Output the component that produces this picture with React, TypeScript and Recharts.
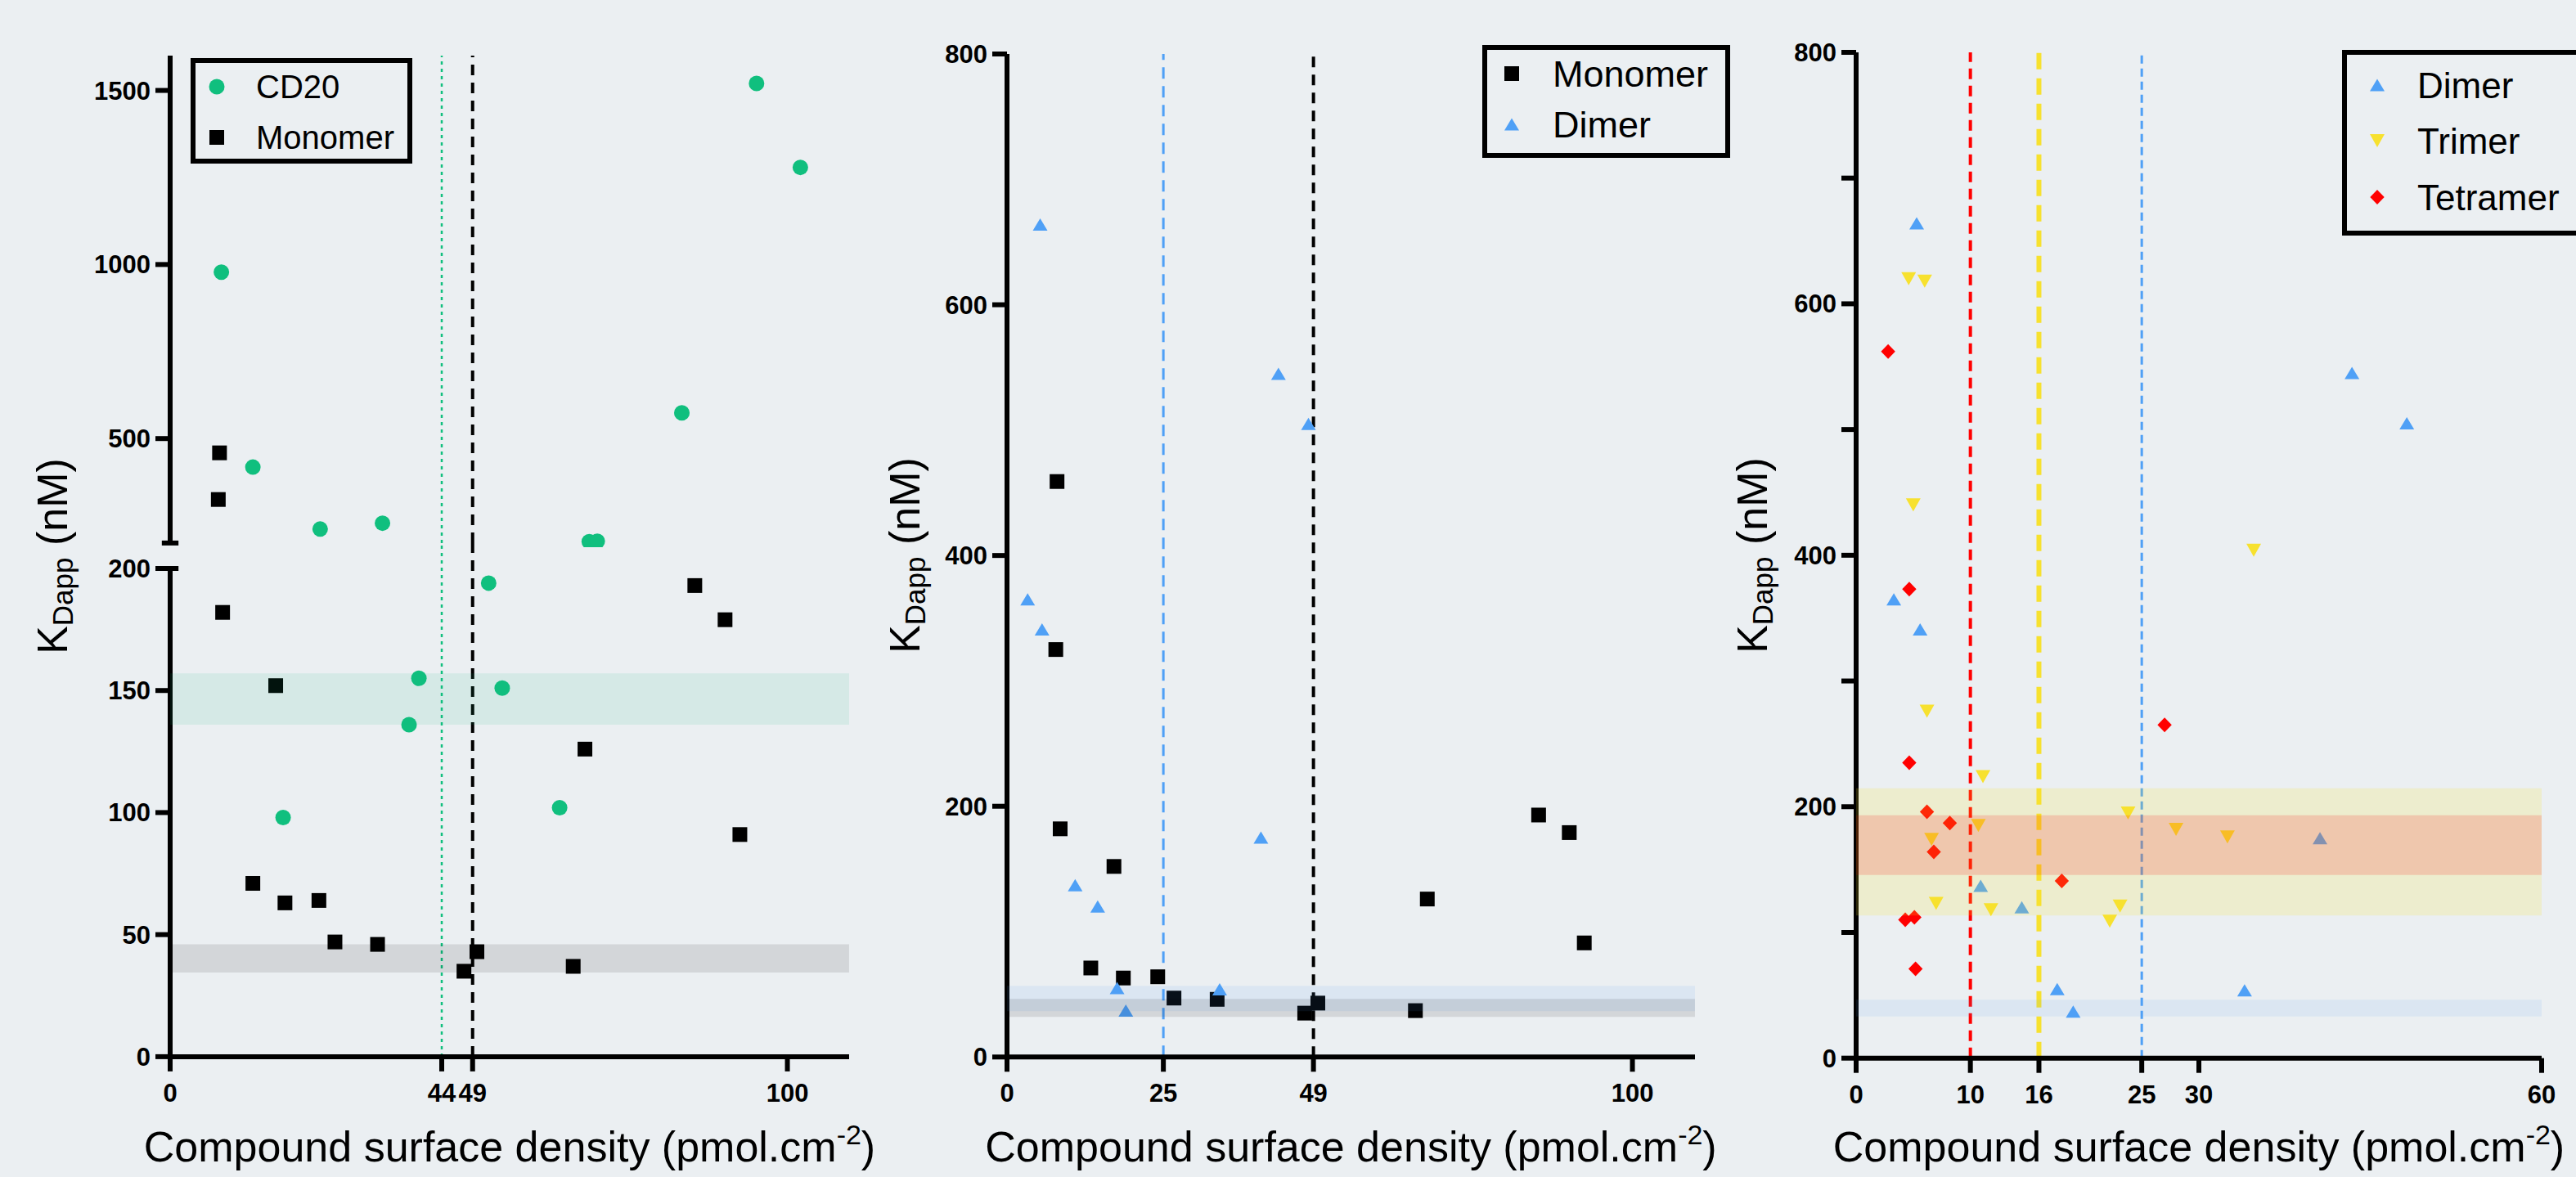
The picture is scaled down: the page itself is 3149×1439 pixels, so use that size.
import React from "react";
import { ReferenceArea, ReferenceLine, Scatter, ScatterChart, XAxis, YAxis } from "recharts";

type Pt = { x: number; y: number };
type Kind = "circle" | "square" | "up" | "down" | "diamond";

// x = compound surface density (pmol.cm-2), y = KDapp (nM)
const CD20: Pt[] = [
  { x: 8.3, y: 978 }, { x: 13.4, y: 418 }, { x: 24.3, y: 240 }, { x: 34.4, y: 257 },
  { x: 67.9, y: 204 }, { x: 69.2, y: 205 }, { x: 82.9, y: 574 }, { x: 95.0, y: 1520 },
  { x: 102.1, y: 1279 }, { x: 51.6, y: 194 }, { x: 40.3, y: 155 }, { x: 53.8, y: 151 },
  { x: 38.7, y: 136 }, { x: 18.3, y: 98 }, { x: 63.1, y: 102 },
];
const MONOMER: Pt[] = [
  { x: 8.0, y: 459 }, { x: 7.8, y: 325 }, { x: 8.5, y: 182 }, { x: 17.1, y: 152 },
  { x: 13.4, y: 71 }, { x: 18.6, y: 63 }, { x: 24.1, y: 64 }, { x: 26.7, y: 47 },
  { x: 33.6, y: 46 }, { x: 47.6, y: 35 }, { x: 49.7, y: 43 }, { x: 65.3, y: 37 },
  { x: 67.2, y: 126 }, { x: 85.0, y: 193 }, { x: 89.9, y: 179 }, { x: 92.3, y: 91 },
];
const DIMER: Pt[] = [
  { x: 5.3, y: 664 }, { x: 43.4, y: 545 }, { x: 48.2, y: 505 }, { x: 3.3, y: 365 },
  { x: 5.6, y: 341 }, { x: 40.6, y: 175 }, { x: 10.9, y: 137 }, { x: 14.5, y: 120 },
  { x: 17.6, y: 55 }, { x: 19.0, y: 37 }, { x: 34.0, y: 54 },
];
const TRIMER: Pt[] = [
  { x: 4.6, y: 620 }, { x: 6.0, y: 618 }, { x: 5.0, y: 440 }, { x: 34.8, y: 404 },
  { x: 6.2, y: 276 }, { x: 11.1, y: 224 }, { x: 23.8, y: 195 }, { x: 10.7, y: 185 },
  { x: 28.0, y: 182 }, { x: 6.6, y: 174 }, { x: 32.5, y: 176 }, { x: 7.0, y: 123 },
  { x: 11.8, y: 118 }, { x: 23.1, y: 121 }, { x: 22.2, y: 109 },
];
const TETRAMER: Pt[] = [
  { x: 2.8, y: 562 }, { x: 4.65, y: 373 }, { x: 27.0, y: 265 }, { x: 4.65, y: 235 },
  { x: 6.2, y: 196 }, { x: 8.2, y: 187 }, { x: 6.8, y: 164 }, { x: 18.0, y: 141 },
  { x: 4.3, y: 110 }, { x: 5.1, y: 112 }, { x: 5.2, y: 71 },
];

// shaded ranges [low, high]
const CD20_BAND = [136, 157];
const MONO_BAND_A = [34.5, 46];
const MONO_BAND_B = [32, 46.3];
const DIMER_BAND_B = [36.5, 56.8];
const DIMER_BAND_C = [33.2, 46.4];
const TRIMER_BAND = [113.5, 214.7];
const TETRAMER_BAND = [145.7, 193.2];

// axis scales and ticks
const BREAK = 200;
const A_X_DOMAIN = [0, 110];
const A_LOW_DOMAIN = [0, 200];
const A_HIGH_DOMAIN = [200, 1600];
const A_X_TICKS = [0, 44, 49, 100];
const A_LOW_TICKS = [0, 50, 100, 150, 200];
const A_HIGH_TICKS = [500, 1000, 1500];
const B_X_DOMAIN = [0, 110];
const B_Y_DOMAIN = [0, 800];
const B_X_TICKS = [0, 25, 49, 100];
const B_Y_TICKS = [0, 200, 400, 600, 800];
const C_X_DOMAIN = [0, 60];
const C_Y_DOMAIN = [0, 800];
const C_X_TICKS = [0, 10, 16, 25, 30, 60];
const C_Y_TICKS = [0, 100, 200, 300, 400, 500, 600, 700, 800];

const BG = "#EBEFF2";
const FONT = '"Liberation Sans", Arial, Helvetica, sans-serif';
const GREEN = "#10BF7E";
const BLUE = "#4FA0F6";
const YELLOW = "#F7E12F";
const RED = "#FF0000";
const BLACK = "#000000";

const YW = 130;
const XH = 80;
const MR = 20;
const AXIS = { stroke: BLACK, strokeWidth: 6 };
const TICK = { fontSize: 31, fontWeight: 700, fill: BLACK, fontFamily: FONT };

function Mark({ cx = 0, cy = 0, kind, fill }: { cx?: number; cy?: number; kind: Kind; fill: string }) {
  if (kind === "circle") return <circle cx={cx} cy={cy} r={9.5} fill={fill} />;
  if (kind === "square") return <rect x={cx - 9} y={cy - 9} width={18} height={18} fill={fill} />;
  if (kind === "up")
    return <polygon points={`${cx},${cy - 7.5} ${cx + 9},${cy + 7.5} ${cx - 9},${cy + 7.5}`} fill={fill} />;
  if (kind === "down")
    return <polygon points={`${cx - 9},${cy - 8} ${cx + 9},${cy - 8} ${cx},${cy + 8}`} fill={fill} />;
  return <polygon points={`${cx},${cy - 9} ${cx + 8.7},${cy} ${cx},${cy + 9} ${cx - 8.7},${cy}`} fill={fill} />;
}

const shape = (kind: Kind, fill: string) => (p: any) => <Mark cx={p.cx} cy={p.cy} kind={kind} fill={fill} />;

/** Absolutely placed chart whose plot area lands on plotLeft/plotTop. */
function Frame({
  plotLeft, plotTop, plotW, plotH, mt = 10, mb = 0, withX = true, children,
}: {
  plotLeft: number; plotTop: number; plotW: number; plotH: number; mt?: number; mb?: number; withX?: boolean;
  children: React.ReactNode;
}) {
  const width = YW + plotW + MR;
  const height = mt + plotH + mb + (withX ? XH : 0);
  return (
    <div style={{ position: "absolute", left: plotLeft - YW, top: plotTop - mt, width, height }}>
      <ScatterChart width={width} height={height} margin={{ top: mt, right: MR, bottom: mb, left: 0 }}>
        {children}
      </ScatterChart>
    </div>
  );
}

function xAxis(domain: number[], ticks: number[], hide = false) {
  return (
    <XAxis
      type="number" dataKey="x" domain={domain} ticks={ticks} interval={0} hide={hide}
      height={XH} axisLine={AXIS} tickLine={AXIS} tickSize={18} tickMargin={15} tick={TICK}
    />
  );
}

function yAxis(domain: number[], ticks: number[], fmt?: (v: number) => string) {
  return (
    <YAxis
      type="number" dataKey="y" domain={domain} ticks={ticks} interval={0} width={YW}
      axisLine={AXIS} tickLine={AXIS} tickSize={18} tickMargin={6} tick={TICK} tickFormatter={fmt}
    />
  );
}

function band(r: number[], xMax: number, fill: string, op: number) {
  return (
    <ReferenceArea
      x1={0} x2={xMax} y1={r[0]} y2={r[1]} fill={fill} fillOpacity={op} stroke="none"
      ifOverflow="visible" zIndex={650}
    />
  );
}

type Row = { label: string; kind: Kind; fill: string };

function LegendBox({
  left, top, width, height, fs, markX, textX, rowsY, rows,
}: {
  left: number; top: number; width: number; height: number; fs: number; markX: number; textX: number;
  rowsY: number[]; rows: Row[];
}) {
  const b = 6;
  return (
    <div
      style={{
        position: "absolute", left, top, width, height, boxSizing: "border-box",
        border: `${b}px solid ${BLACK}`, zIndex: 5,
      }}
    >
      {rows.map((r, i) => (
        <React.Fragment key={r.label}>
          <svg
            width={24} height={24}
            style={{ position: "absolute", left: markX - b - 12, top: rowsY[i] - b - 12 }}
          >
            <Mark cx={12} cy={12} kind={r.kind} fill={r.fill} />
          </svg>
          <div
            style={{
              position: "absolute", left: textX - b, top: rowsY[i] - b - 0.488 * fs,
              fontSize: fs, lineHeight: `${fs}px`, whiteSpace: "nowrap",
            }}
          >
            {r.label}
          </div>
        </React.Fragment>
      ))}
    </div>
  );
}

function YTitle({ cx, cy }: { cx: number; cy: number }) {
  return (
    <div
      style={{
        position: "absolute", left: cx, top: cy, fontSize: 52, lineHeight: 1, whiteSpace: "nowrap",
        transform: "translate(-50%, -50%) rotate(-90deg)",
      }}
    >
      K<span style={{ fontSize: 35, lineHeight: 0, verticalAlign: -7 }}>Dapp</span> (nM)
    </div>
  );
}

function XTitle({ cx }: { cx: number }) {
  return (
    <div
      style={{
        position: "absolute", left: cx - 600, width: 1200, top: 1420 - 0.8465 * 52, fontSize: 52,
        lineHeight: 1, textAlign: "center", whiteSpace: "nowrap",
      }}
    >
      Compound surface density (pmol.cm<span style={{ fontSize: 34, lineHeight: 0, verticalAlign: 21 }}>-2</span>)
    </div>
  );
}

export default function App() {
  const cdHigh = CD20.filter((d) => d.y > BREAK);
  const cdLow = CD20.filter((d) => d.y <= BREAK);
  const monoHigh = MONOMER.filter((d) => d.y > BREAK);
  const monoLow = MONOMER.filter((d) => d.y <= BREAK);
  const capX = 1.35;

  return (
    <div
      style={{
        position: "absolute", left: 0, top: 0, width: 3149, height: 1439, background: BG,
        overflow: "hidden", fontFamily: FONT, color: BLACK,
      }}
    >
      {/* Panel A, upper part of the broken axis */}
      <Frame plotLeft={208} plotTop={67.6} plotW={830} plotH={595.9} mt={30} mb={6} withX={false}>
        {xAxis(A_X_DOMAIN, A_X_TICKS, true)}
        {yAxis(A_HIGH_DOMAIN, A_HIGH_TICKS)}
        <ReferenceLine x={44} stroke={GREEN} strokeWidth={2.5} strokeDasharray="4 5" />
        <ReferenceLine x={49} stroke={BLACK} strokeWidth={4} strokeDasharray="13 9" />
        <ReferenceLine
          segment={[{ x: -capX, y: BREAK }, { x: capX, y: BREAK }]} stroke={BLACK} strokeWidth={6} ifOverflow="visible"
        />
        <Scatter data={cdHigh} fill={GREEN} shape={shape("circle", GREEN)} isAnimationActive={false} />
        <Scatter data={monoHigh} fill={BLACK} shape={shape("square", BLACK)} isAnimationActive={false} />
      </Frame>

      {/* Panel A, lower part */}
      <Frame plotLeft={208} plotTop={694.6} plotW={830} plotH={596.9} mt={40}>
        {xAxis(A_X_DOMAIN, A_X_TICKS)}
        {yAxis(A_LOW_DOMAIN, A_LOW_TICKS)}
        <ReferenceLine
          segment={[{ x: 44, y: 0 }, { x: 44, y: 210.4 }]} stroke={GREEN} strokeWidth={2.5} strokeDasharray="4 5"
          ifOverflow="visible"
        />
        <ReferenceLine
          segment={[{ x: 49, y: 0 }, { x: 49, y: 210.4 }]} stroke={BLACK} strokeWidth={4} strokeDasharray="13 9"
          ifOverflow="visible"
        />
        <ReferenceLine
          segment={[{ x: -capX, y: BREAK }, { x: capX, y: BREAK }]} stroke={BLACK} strokeWidth={6} ifOverflow="visible"
        />
        <Scatter data={cdLow} fill={GREEN} shape={shape("circle", GREEN)} isAnimationActive={false} />
        <Scatter data={monoLow} fill={BLACK} shape={shape("square", BLACK)} isAnimationActive={false} />
        {band(CD20_BAND, 110, GREEN, 0.1)}
        {band(MONO_BAND_A, 110, BLACK, 0.1)}
      </Frame>

      {/* Panel B */}
      <Frame plotLeft={1231} plotTop={65.7} plotW={841} plotH={1226.3} mt={30}>
        {xAxis(B_X_DOMAIN, B_X_TICKS)}
        {yAxis(B_Y_DOMAIN, B_Y_TICKS)}
        <ReferenceLine x={25} stroke={BLUE} strokeWidth={3} strokeDasharray="14 9" />
        <ReferenceLine x={49} stroke={BLACK} strokeWidth={4} strokeDasharray="13 9" />
        <Scatter data={MONOMER} fill={BLACK} shape={shape("square", BLACK)} isAnimationActive={false} />
        <Scatter data={DIMER} fill={BLUE} shape={shape("up", BLUE)} isAnimationActive={false} />
        {band(DIMER_BAND_B, 110, BLUE, 0.1)}
        {band(MONO_BAND_B, 110, BLACK, 0.1)}
      </Frame>

      {/* Panel C */}
      <Frame plotLeft={2269} plotTop={64.3} plotW={838} plotH={1229.7} mt={30}>
        {xAxis(C_X_DOMAIN, C_X_TICKS)}
        {yAxis(C_Y_DOMAIN, C_Y_TICKS, (v) => (v % 200 === 0 ? String(v) : ""))}
        <ReferenceLine x={10} stroke={RED} strokeWidth={4} strokeDasharray="13 8" />
        <ReferenceLine x={16} stroke={YELLOW} strokeWidth={6} strokeDasharray="20 11" />
        <ReferenceLine x={25} stroke={BLUE} strokeWidth={3} strokeDasharray="10 6" />
        <Scatter data={DIMER} fill={BLUE} shape={shape("up", BLUE)} isAnimationActive={false} />
        <Scatter data={TRIMER} fill={YELLOW} shape={shape("down", YELLOW)} isAnimationActive={false} />
        <Scatter data={TETRAMER} fill={RED} shape={shape("diamond", RED)} isAnimationActive={false} />
        {band(TRIMER_BAND, 60, YELLOW, 0.18)}
        {band(TETRAMER_BAND, 60, RED, 0.155)}
        {band(DIMER_BAND_C, 60, BLUE, 0.1)}
      </Frame>

      <LegendBox
        left={233} top={71} width={271} height={129} fs={40} markX={32} textX={80} rowsY={[34.6, 96.6]}
        rows={[
          { label: "CD20", kind: "circle", fill: GREEN },
          { label: "Monomer", kind: "square", fill: BLACK },
        ]}
      />
      <LegendBox
        left={1812} top={55} width={303} height={138} fs={45} markX={36} textX={86} rowsY={[35.4, 96.5]}
        rows={[
          { label: "Monomer", kind: "square", fill: BLACK },
          { label: "Dimer", kind: "up", fill: BLUE },
        ]}
      />
      <LegendBox
        left={2863} top={61} width={300} height={227} fs={44} markX={43} textX={92} rowsY={[43, 111, 180]}
        rows={[
          { label: "Dimer", kind: "up", fill: BLUE },
          { label: "Trimer", kind: "down", fill: YELLOW },
          { label: "Tetramer", kind: "diamond", fill: RED },
        ]}
      />

      <YTitle cx={64} cy={680} />
      <YTitle cx={1106} cy={679} />
      <YTitle cx={2142} cy={679} />
      <XTitle cx={623} />
      <XTitle cx={1651.5} />
      <XTitle cx={2688} />
    </div>
  );
}
